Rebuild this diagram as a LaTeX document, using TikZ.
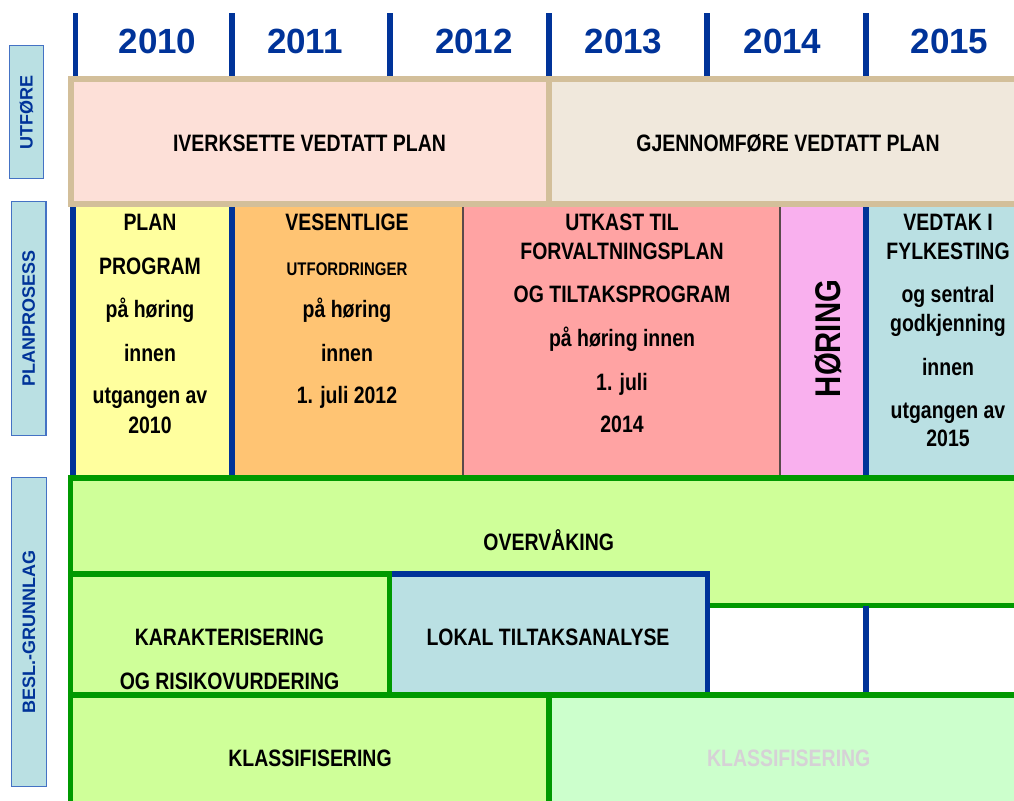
\documentclass[tikz,border=0pt]{standalone}
\usepackage{fontspec}
\setmainfont{Liberation Sans}
\newfontfamily\narrowfont[FakeStretch=0.82]{Liberation Sans}
\definecolor{dblue}{HTML}{003399}
\definecolor{tanc}{HTML}{D3BF9A}
\definecolor{pinkfill}{HTML}{FDE0D8}
\definecolor{beigefill}{HTML}{F0E8DC}
\definecolor{yellowc}{HTML}{FFFF9E}
\definecolor{orangec}{HTML}{FFC473}
\definecolor{salmonc}{HTML}{FFA3A3}
\definecolor{pinkc}{HTML}{F9B0EE}
\definecolor{lbluec}{HTML}{BAE0E3}
\definecolor{greenc}{HTML}{009900}
\definecolor{limec}{HTML}{CFFF99}
\definecolor{lgreenc}{HTML}{CCFFCC}
\definecolor{grayt}{HTML}{D6D1D6}
\definecolor{sideborder}{HTML}{4472C4}
\definecolor{thinc}{HTML}{5A4A4A}
\tikzset{
  yearline/.style={draw=dblue, line width=4.3pt},
  blueline/.style={draw=dblue, line width=4.3pt},
  tanline/.style={draw=tanc, line width=4.5pt},
  greenline/.style={draw=greenc, line width=4.1pt},
  thinline/.style={draw=thinc, line width=1.1pt},
  year/.style={font=\bfseries\fontsize{26.25}{30}\selectfont, text=dblue, inner sep=0pt, anchor=base},
  txt/.style={font=\narrowfont\bfseries\fontsize{17.8}{21}\selectfont, inner sep=0pt, anchor=base},
  smalltxt/.style={font=\narrowfont\bfseries\fontsize{13.7}{16}\selectfont, inner sep=0pt, anchor=base},
  sidebox/.style={draw=sideborder, fill=lbluec, line width=1pt},
  sidetext/.style={font=\bfseries\fontsize{13.5}{16}\selectfont, text=dblue, inner sep=0pt, rotate=90},
}
\begin{document}
\begin{tikzpicture}[x=0.75pt,y=-0.75pt]
\useasboundingbox (0,0) rectangle (1014,800);
\clip (0,0) rectangle (1014,800);
\fill[white] (0,0) rectangle (1014,800);

% year dividers and labels
\foreach \x in {75.5,232,390,549,707,866} \draw[yearline] (\x,13) -- (\x,78);
\node[year] (y2010) at (157.5,53) {2010};
\node[year] (y2011) at (305,53) {2011};
\node[year] (y2012) at (474,53) {2012};
\node[year] (y2013) at (623.5,53) {2013};
\node[year] (y2014) at (782.5,53) {2014};
\node[year] (y2015) at (949.5,53) {2015};

% side labels
\draw[sidebox] (9.5,45.7) rectangle (43.3,178.3);
\node[sidetext] (utf) at (26.5,112) {UTFØRE};
\draw[sidebox] (11.7,201.7) rectangle (46,435.7);
\node[sidetext] (plp) at (28.8,318.7) {PLANPROSESS};
\draw[sidebox] (11.7,477.3) rectangle (46.3,786.7);
\node[sidetext] (besl) at (29,632) {BESL.-GRUNNLAG};

% planprosess
\fill[yellowc] (70,204) rectangle (232,478);
\fill[orangec] (232,204) rectangle (463,478);
\fill[salmonc] (463,204) rectangle (780,478);
\fill[pinkc] (780,204) rectangle (866,478);
\fill[lbluec] (866,204) rectangle (1014,478);
\draw[blueline] (73,204) -- (73,478);
\draw[blueline] (232,204) -- (232,478);
\draw[blueline] (866,204) -- (866,478);
\draw[thinline] (463,204) -- (463,478);
\draw[thinline] (780,204) -- (780,478);

% utfore band
\fill[pinkfill] (70.5,79) rectangle (549,204);
\fill[beigefill] (549,79) rectangle (1030,204);
\draw[tanline] (1030,79) -- (70.5,79) -- (70.5,204) -- (1030,204);
\draw[tanline] (549,79) -- (549,204);
\node[txt] (iver) at (309.5,151) {IVERKSETTE VEDTATT PLAN};
\node[txt] (gjen) at (788,151) {GJENNOMFØRE VEDTATT PLAN};

% planprosess texts
\foreach \t/\yy [count=\i] in {PLAN/230.5,PROGRAM/274,på høring/317,innen/361.5,utgangen av/403,2010/433}
  \node[txt] (pl\i) at (150,\yy) {\t};
\node[txt] (ve1) at (347,230.5) {VESENTLIGE};
\node[smalltxt] (ve2) at (347,275) {UTFORDRINGER};
\node[txt] (ve3) at (347,317) {på høring};
\node[txt] (ve4) at (347,361.5) {innen};
\node[txt] (ve5) at (347,403) {1. juli 2012};
\foreach \t/\yy [count=\i] in {UTKAST TIL/230.5,FORVALTNINGSPLAN/259,OG TILTAKSPROGRAM/302.7,på høring innen/346,1. juli/390,2014/432.7}
  \node[txt] (ut\i) at (622,\yy) {\t};
\node[txt, anchor=center, rotate=90, font=\narrowfont\bfseries\fontsize{26.8}{30}\selectfont] (hor) at (828,338.5) {HØRING};
\foreach \t/\yy [count=\i] in {VEDTAK I/230.5,FYLKESTING/259,og sentral/302,godkjenning/331.7,innen/375,utgangen av/418,2015/446.7}
  \node[txt] (vd\i) at (948,\yy) {\t};

% beslutningsgrunnlag
\filldraw[fill=limec, greenline] (70.5,478) rectangle (1030,605.5);
\fill[white] (710,607.5) rectangle (1030,693);
\draw[blueline] (866,605.5) -- (866,695);
\fill[lbluec] (389.5,574) rectangle (707.5,695);
\draw[blueline] (389.5,574) -- (707.5,574) -- (707.5,695);
\filldraw[fill=limec, greenline] (70.5,574) rectangle (389.5,695);
\fill[limec] (70.5,695) rectangle (549,830);
\fill[lgreenc] (549,695) rectangle (1030,830);
\draw[greenline] (70.5,830) -- (70.5,695) -- (1030,695);
\draw[greenline] (549,695) -- (549,830);

\node[txt] (overv) at (548.7,550) {OVERVÅKING};
\node[txt] (kar1) at (229.5,645) {KARAKTERISERING};
\node[txt] (kar2) at (229.5,689) {OG RISIKOVURDERING};
\node[txt] (lokal) at (548,645) {LOKAL TILTAKSANALYSE};
\node[txt] (kl1) at (310,766.7) {KLASSIFISERING};
\node[txt, text=grayt] (kl2) at (788.7,766.7) {KLASSIFISERING};
\end{tikzpicture}
\end{document}
